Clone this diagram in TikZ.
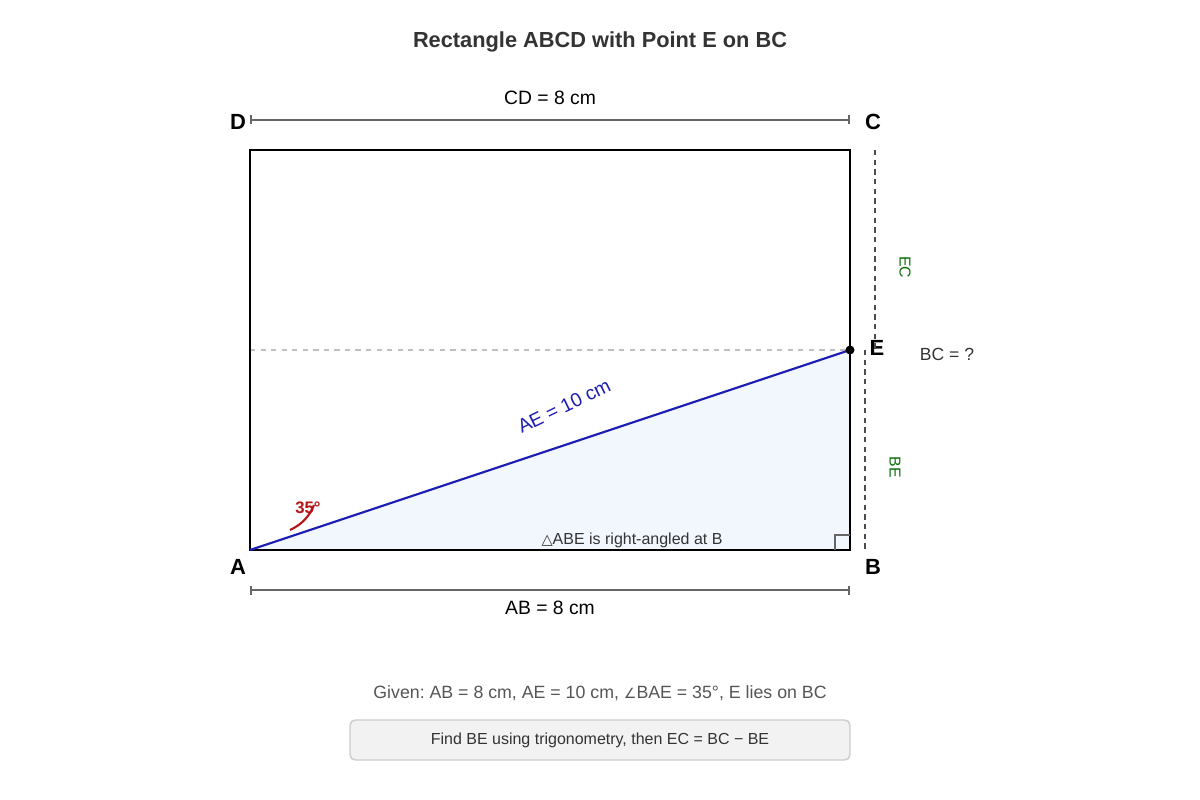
\documentclass[tikz,border=0pt]{standalone}
\usepackage{fontspec}
\setmainfont{Liberation Sans}
\newfontfamily\symfont{DejaVu Sans}
\usetikzlibrary{arrows.meta}
\definecolor{textgray}{HTML}{333333}
\definecolor{notegray}{HTML}{555555}
\definecolor{aeblue}{HTML}{1C1CB4}
\definecolor{anglered}{HTML}{B41414}
\definecolor{segGreen}{HTML}{0A6E0A}
\definecolor{triFill}{HTML}{F2F6FD}
\def\unit{0.02cm}
\frenchspacing

\begin{document}
\begin{tikzpicture}[x=\unit,y=-\unit]
    \tikzstyle{vertex}=[font=\fontsize{12.5}{14}\selectfont\bfseries,inner sep=0pt]
    \tikzstyle{dim}=[draw=black!60,line width=1.2pt,{Bar[width=0.18cm]}-{Bar[width=0.18cm]}]
    \tikzstyle{dim label}=[font=\fontsize{11}{13}\selectfont,inner sep=0pt]
    \tikzstyle{seg label}=[font=\fontsize{9}{11}\selectfont,text=segGreen,inner sep=0pt,rotate=-90]
    \tikzstyle{guide}=[draw=black!70,dash pattern=on 3pt off 2.5pt,line width=0.7pt]

    \useasboundingbox (0,0) rectangle (1200,800);

    % Title
    \node[font=\fontsize{12.4}{14}\selectfont\bfseries,text=textgray] (title) at (600,42) {Rectangle ABCD with Point E on BC};

    % Corners of the rectangle and the point E
    \coordinate (A) at (250,550);
    \coordinate (B) at (850,550);
    \coordinate (C) at (850,150);
    \coordinate (D) at (250,150);
    \coordinate (E) at (850,350);
    \coordinate (L) at (250,350);

    % Triangle ABE
    \fill[triFill] (A) -- (B) -- (E) -- cycle;
    \draw[black!25,dashed,line width=0.8pt] (L) -- (E);
    \draw[line width=1.4pt] (A) -- (B) -- (C) -- (D) -- cycle;
    \draw[aeblue,line width=1.2pt] (A) -- (E);
    \fill[black] (E) circle (4.5);

    % Right angle at B
    \coordinate (R1) at (835,550);
    \coordinate (R2) at (835,535);
    \coordinate (R3) at (850,535);
    \draw[black!60,line width=0.7pt] (R1) -- (R2) -- (R3);

    % Angle at A
    \coordinate (a1) at (290,530);
    \coordinate (a2) at (314,505);
    \draw[anglered,line width=1.2pt] (a1) .. controls (303,524) and (310,515) .. (a2);
    \node[font=\fontsize{9.5}{11}\selectfont\bfseries,text=anglered,inner sep=0pt] (ang) at (308,508) {35°};

    % Labels of the corners
    \node[vertex] (lA) at (238,567) {A};
    \node[vertex] (lB) at (873,567) {B};
    \node[vertex] (lC) at (873,122) {C};
    \node[vertex] (lD) at (238,122) {D};
    \node[vertex] (lE) at (877,348) {E};

    % AE and triangle note
    \node[font=\fontsize{11}{12}\selectfont,text=aeblue,rotate=26,inner sep=0pt] (ae) at (564,406) {AE = 10 cm};
    \node[font=\fontsize{9.1}{10}\selectfont,text=textgray,inner sep=0pt] (tri) at (632,540) {{\symfont\fontsize{8.3}{10}\selectfont △}ABE is right-angled at B};

    % Dimension lines for CD and AB
    \coordinate (d1) at (250,120);
    \coordinate (d2) at (850,120);
    \coordinate (b1) at (250,590);
    \coordinate (b2) at (850,590);
    \draw[dim] (d1) -- (d2);
    \draw[dim] (b1) -- (b2);
    \node[dim label] (cd) at (550,98) {CD = 8 cm};
    \node[dim label] (ab) at (550,608) {AB = 8 cm};

    % Segments EC and BE
    \coordinate (c1) at (875,150);
    \coordinate (c2) at (875,350);
    \coordinate (e1) at (865,350);
    \coordinate (e2) at (865,550);
    \draw[guide] (c1) -- (c2);
    \draw[guide] (e1) -- (e2);
    \node[seg label] (ec) at (905,267) {EC};
    \node[seg label] (be) at (895,467) {BE};
    \node[font=\fontsize{10}{12}\selectfont,text=textgray,inner sep=0pt] (bc) at (947,354) {BC = ?};

    % Given data and task
    \node[font=\fontsize{10.1}{12}\selectfont,text=notegray,inner sep=0pt] (given) at (600,693) {Given: AB = 8 cm, AE = 10 cm, {\symfont\fontsize{8}{12}\selectfont ∠}BAE = 35°, E lies on BC};
    \node[draw=black!20,fill=black!5,rounded corners=3pt,line width=0.8pt,minimum width=500*\unit,minimum height=40*\unit,font=\fontsize{9.1}{10}\selectfont,text=textgray] (task) at (600,740) {Find BE using trigonometry, then EC = BC − BE};
\end{tikzpicture}
\end{document}
